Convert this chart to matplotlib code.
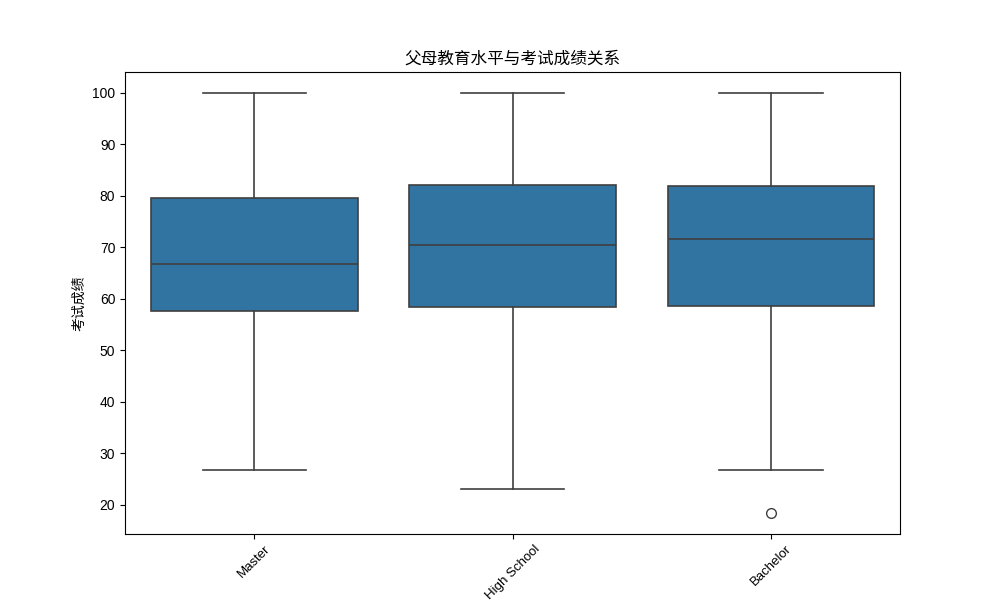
import matplotlib
matplotlib.use("Agg")
import matplotlib.pyplot as plt

plt.rcParams['font.family'] = ['Liberation Sans', 'Noto Sans CJK SC', 'DejaVu Sans']

categories = ["Master", "High School", "Bachelor"]
whislo = [26.8, 23.1, 26.8]
q1 = [57.7, 58.4, 58.6]
med = [66.8, 70.5, 71.6]
q3 = [79.6, 82.1, 81.9]
whishi = [100, 100, 100]
fliers = [[], [], [18.4]]

stats = []
for i, c in enumerate(categories):
    stats.append(dict(label=c, whislo=whislo[i], q1=q1[i], med=med[i],
                      q3=q3[i], whishi=whishi[i], fliers=fliers[i]))

fig, ax = plt.subplots(figsize=(10, 6), dpi=100)
lc = '#3f3f3f'
lw = 1.2
ax.bxp(stats, positions=range(len(categories)), widths=0.8, patch_artist=True,
       boxprops=dict(facecolor='#3274a1', edgecolor=lc, linewidth=lw),
       medianprops=dict(color=lc, linewidth=lw),
       whiskerprops=dict(color=lc, linewidth=lw),
       capprops=dict(color=lc, linewidth=lw),
       flierprops=dict(marker='o', markerfacecolor='none', markeredgecolor=lc,
                       markersize=7, linewidth=0),
       capwidths=0.4)
ax.set_xlim(-0.5, len(categories) - 0.5)
ax.set_xticks(range(len(categories)))
ax.set_xticklabels(categories, rotation=45, fontsize=9.5)
ax.tick_params(axis='x', pad=3)
ax.set_title("父母教育水平与考试成绩关系")
ax.set_ylabel("考试成绩")
ax.set_xlabel("")
fig.savefig("out.png")
